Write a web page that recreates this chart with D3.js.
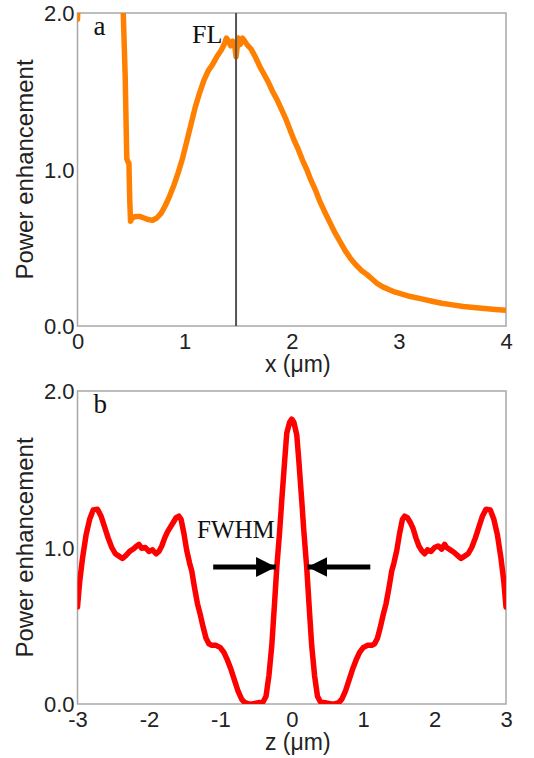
<!DOCTYPE html>
<html>
<head>
<meta charset="utf-8">
<script src="https://cdn.jsdelivr.net/npm/d3@7"></script>
<style>
  html, body { margin: 0; padding: 0; background: #fff; }
  svg { display: block; }
</style>
</head>
<body>
<div id="chart"></div>
<script>
// ---------------- DATA ----------------
// Panel a: power enhancement along x (µm)
const xValuesA = [0.000, 0.020, 0.400, 0.425, 0.445, 0.460, 0.470, 0.480, 0.488, 0.495, 0.51, 0.54, 0.58, 0.62, 0.66, 0.70, 0.74, 0.78, 0.82, 0.86, 0.90, 0.94, 0.98, 1.02, 1.06, 1.10, 1.14, 1.18, 1.22, 1.26, 1.30, 1.34, 1.37, 1.39, 1.41, 1.43, 1.45, 1.47, 1.48, 1.50, 1.52, 1.54, 1.56, 1.58, 1.62, 1.66, 1.70, 1.74, 1.78, 1.82, 1.86, 1.90, 1.94, 1.98, 2.02, 2.06, 2.10, 2.14, 2.18, 2.22, 2.26, 2.30, 2.35, 2.40, 2.45, 2.50, 2.55, 2.60, 2.65, 2.70, 2.75, 2.80, 2.85, 2.90, 2.95, 3.00, 3.10, 3.20, 3.30, 3.40, 3.50, 3.60, 3.70, 3.80, 3.90, 4.00];
const yValuesA = [1.96, 2.30, 2.30, 2.05, 1.60, 1.07, 1.05, 1.04, 0.80, 0.67, 0.69, 0.70, 0.70, 0.69, 0.68, 0.675, 0.69, 0.72, 0.77, 0.83, 0.90, 0.98, 1.07, 1.18, 1.29, 1.40, 1.49, 1.57, 1.63, 1.67, 1.72, 1.76, 1.80, 1.84, 1.82, 1.79, 1.82, 1.78, 1.72, 1.84, 1.80, 1.84, 1.82, 1.80, 1.77, 1.72, 1.66, 1.61, 1.56, 1.50, 1.45, 1.39, 1.33, 1.26, 1.19, 1.13, 1.06, 1.00, 0.93, 0.87, 0.80, 0.74, 0.67, 0.60, 0.54, 0.48, 0.43, 0.39, 0.355, 0.33, 0.30, 0.27, 0.25, 0.235, 0.22, 0.21, 0.19, 0.175, 0.16, 0.145, 0.135, 0.125, 0.118, 0.112, 0.106, 0.100];
const focalLengthX = 1.48;

// Panel b: power enhancement along z (µm)
const zValuesB = [-3.00, -2.97, -2.93, -2.88, -2.83, -2.78, -2.72, -2.67, -2.62, -2.57, -2.52, -2.47, -2.42, -2.37, -2.32, -2.27, -2.22, -2.17, -2.14, -2.10, -2.05, -2.00, -1.95, -1.90, -1.86, -1.82, -1.78, -1.74, -1.70, -1.66, -1.62, -1.58, -1.55, -1.51, -1.47, -1.43, -1.40, -1.36, -1.32, -1.28, -1.24, -1.20, -1.16, -1.12, -1.06, -1.00, -0.95, -0.90, -0.85, -0.80, -0.75, -0.70, -0.66, -0.60, -0.55, -0.50, -0.45, -0.40, -0.36, -0.32, -0.28, -0.24, -0.21, -0.17, -0.14, -0.10, -0.07, -0.03, 0.00, 0.03, 0.07, 0.10, 0.14, 0.17, 0.21, 0.24, 0.28, 0.32, 0.36, 0.40, 0.45, 0.50, 0.55, 0.60, 0.66, 0.70, 0.75, 0.80, 0.85, 0.90, 0.95, 1.00, 1.06, 1.12, 1.16, 1.20, 1.24, 1.28, 1.32, 1.36, 1.40, 1.43, 1.47, 1.51, 1.55, 1.58, 1.62, 1.66, 1.70, 1.74, 1.78, 1.82, 1.86, 1.90, 1.95, 2.00, 2.05, 2.10, 2.14, 2.17, 2.22, 2.27, 2.32, 2.37, 2.42, 2.47, 2.52, 2.57, 2.62, 2.67, 2.72, 2.78, 2.83, 2.88, 2.93, 2.97, 3.00];
const pValuesB = [0.62, 0.78, 0.93, 1.08, 1.18, 1.24, 1.245, 1.20, 1.13, 1.06, 1.00, 0.96, 0.945, 0.93, 0.95, 0.975, 0.99, 1.01, 1.02, 0.995, 1.00, 0.975, 0.985, 0.96, 0.975, 1.01, 1.06, 1.10, 1.13, 1.16, 1.19, 1.20, 1.18, 1.09, 0.98, 0.90, 0.85, 0.74, 0.64, 0.57, 0.49, 0.42, 0.385, 0.375, 0.375, 0.36, 0.33, 0.28, 0.22, 0.15, 0.08, 0.03, 0.01, 0.00, 0.00, 0.005, 0.01, 0.015, 0.05, 0.18, 0.37, 0.65, 0.87, 1.10, 1.30, 1.55, 1.73, 1.80, 1.82, 1.80, 1.72, 1.55, 1.30, 1.10, 0.87, 0.65, 0.37, 0.18, 0.05, 0.015, 0.01, 0.005, 0.00, 0.00, 0.01, 0.03, 0.08, 0.15, 0.22, 0.28, 0.33, 0.36, 0.375, 0.375, 0.385, 0.42, 0.49, 0.57, 0.64, 0.74, 0.85, 0.90, 0.98, 1.09, 1.18, 1.20, 1.19, 1.16, 1.12, 1.06, 1.01, 0.98, 0.96, 0.985, 0.975, 1.00, 1.01, 0.99, 1.02, 1.00, 0.985, 0.97, 0.95, 0.93, 0.945, 0.96, 1.00, 1.06, 1.13, 1.20, 1.245, 1.24, 1.18, 1.08, 0.93, 0.78, 0.62];
const fwhmArrowLeft = [-1.10, -0.22];
const fwhmArrowRight = [1.10, 0.22];
const fwhmLevel = 0.875;

const xTicksA = [0, 1, 2, 3, 4];
const zTicksB = [-3, -2, -1, 0, 1, 2, 3];
const yTicks = [0, 1, 2];

// ---------------- LAYOUT ----------------
const W = 534, H = 758;
const svg = d3.select("#chart").append("svg").attr("width", W).attr("height", H);

const defs = svg.append("defs");
defs.append("marker").attr("id", "arrowhead")
  .attr("viewBox", "0 0 10 10").attr("refX", 10).attr("refY", 5)
  .attr("markerWidth", 4.0).attr("markerHeight", 4.2)
  .attr("markerUnits", "strokeWidth")
  .attr("orient", "auto")
  .append("path").attr("d", "M0,0 L10,5 L0,10 Z").attr("fill", "#000");

const sans = "'Liberation Sans', Arial, sans-serif";
const serif = "'Liberation Serif', 'Times New Roman', serif";

function panel(opts) {
  const { left, right, top, bottom, xDomain, xTicks, xs, ys, color, letter, xLabel, clipId } = opts;
  const x = d3.scaleLinear().domain(xDomain).range([left, right]);
  const y = d3.scaleLinear().domain([0, 2]).range([bottom, top]);
  const g = svg.append("g");

  defs.append("clipPath").attr("id", clipId).append("rect")
    .attr("x", left).attr("y", top).attr("width", right - left).attr("height", bottom - top);

  // y tick labels
  const yAxis = d3.axisLeft(y).tickValues(yTicks).tickSize(0).tickPadding(3).tickFormat(d3.format(".1f"));
  const ya = g.append("g").attr("transform", `translate(${left},0)`).call(yAxis);
  ya.select(".domain").remove();
  ya.selectAll("text").attr("font-family", sans)
    .attr("font-size", 22).attr("fill", "#222").attr("dy", "0.35em");

  // x tick labels (hyphen-minus as in the reference)
  const xAxis = d3.axisBottom(x).tickValues(xTicks).tickSize(0).tickPadding(0)
    .tickFormat(d => String(d));
  const xa = g.append("g").attr("transform", `translate(0,${bottom})`).call(xAxis);
  xa.select(".domain").remove();
  xa.selectAll("text").attr("font-family", sans)
    .attr("font-size", 22).attr("fill", "#222").attr("y", 23).attr("dy", 0);

  // frame
  g.append("rect").attr("x", left).attr("y", top).attr("width", right - left).attr("height", bottom - top)
    .attr("fill", "none").attr("stroke", "#a8a8a8").attr("stroke-width", 1.5);

  // curve
  const data = xs.map((v, i) => [v, ys[i]]);
  g.append("path").datum(data)
    .attr("clip-path", `url(#${clipId})`)
    .attr("fill", "none").attr("stroke", color).attr("stroke-width", 5.5)
    .attr("stroke-linejoin", "round").attr("stroke-linecap", "round")
    .attr("d", d3.line().x(d => x(d[0])).y(d => y(d[1])));

  // axis labels
  g.append("text").attr("x", (left + right) / 2 + 6).attr("y", bottom + 46)
    .attr("text-anchor", "middle").attr("font-family", sans)
    .attr("font-size", 23).attr("fill", "#222").text(xLabel);
  g.append("text").attr("transform", `translate(33,${(top + bottom) / 2}) rotate(-90)`)
    .attr("text-anchor", "middle").attr("font-family", sans)
    .attr("font-size", 24).attr("fill", "#222").text("Power enhancement");

  // panel letter
  g.append("text").attr("x", left + 16).attr("y", top + 22)
    .attr("font-family", serif)
    .attr("font-size", 27).attr("fill", "#111").text(letter);

  return { g, x, y };
}

// Panel a
const A = panel({
  left: 77.5, right: 506, top: 13, bottom: 326,
  xDomain: [0, 4], xTicks: xTicksA, xs: xValuesA, ys: yValuesA,
  color: "#ff8000", letter: "a", xLabel: "x (\u03bcm)", clipId: "clipA"
});
A.g.append("line")
  .attr("x1", A.x(focalLengthX)).attr("x2", A.x(focalLengthX))
  .attr("y1", A.y(2)).attr("y2", A.y(0))
  .attr("stroke", "#555").attr("stroke-width", 2);
A.g.append("text").attr("x", A.x(focalLengthX) - 44).attr("y", 43)
  .attr("font-family", serif)
  .attr("font-size", 26).attr("fill", "#111").text("FL");

// Panel b
const B = panel({
  left: 77.5, right: 506, top: 391, bottom: 704,
  xDomain: [-3, 3], xTicks: zTicksB, xs: zValuesB, ys: pValuesB,
  color: "#ff0000", letter: "b", xLabel: "z (\u03bcm)", clipId: "clipB"
});
B.g.append("text").attr("x", 197).attr("y", 538)
  .attr("font-family", serif)
  .attr("font-size", 25).attr("fill", "#111").text("FWHM");
[fwhmArrowLeft, fwhmArrowRight].forEach(a => {
  B.g.append("line")
    .attr("x1", B.x(a[0])).attr("x2", B.x(a[1]))
    .attr("y1", B.y(fwhmLevel)).attr("y2", B.y(fwhmLevel))
    .attr("stroke", "#000").attr("stroke-width", 5)
    .attr("marker-end", "url(#arrowhead)");
});
</script>
</body>
</html>
